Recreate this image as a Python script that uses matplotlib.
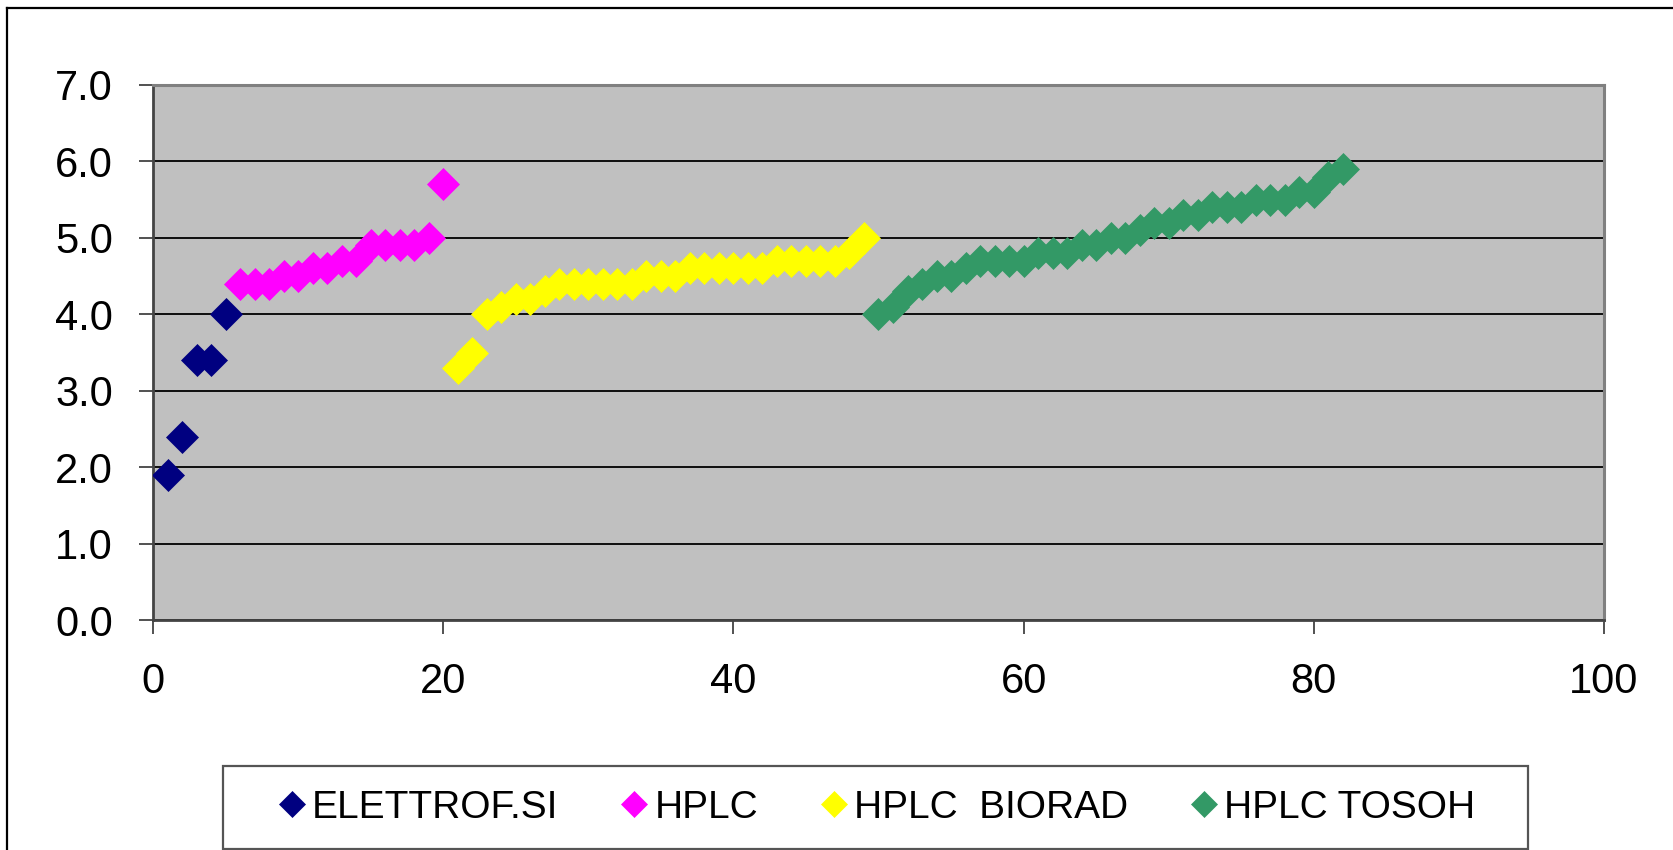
import matplotlib
matplotlib.use("Agg")
import matplotlib.pyplot as plt
from matplotlib.lines import Line2D
from matplotlib.patches import Rectangle

plt.rcParams['font.family'] = ['Liberation Sans', 'DejaVu Sans']

# ---- data ----
elettrof_x = [1, 2, 3, 4, 5]
elettrof_y = [1.9, 2.4, 3.4, 3.4, 4.0]

hplc_x = list(range(6, 21))
hplc_y = [4.4, 4.4, 4.4, 4.5, 4.5, 4.6, 4.6, 4.7, 4.7, 4.9, 4.9, 4.9, 4.9, 5.0, 5.7]

biorad_x = list(range(21, 50))
biorad_y = [3.3, 3.5, 4.0, 4.1, 4.2, 4.2, 4.3, 4.4, 4.4, 4.4, 4.4, 4.4, 4.4,
            4.5, 4.5, 4.5, 4.6, 4.6, 4.6, 4.6, 4.6, 4.6, 4.7, 4.7, 4.7, 4.7,
            4.7, 4.8, 5.0]

tosoh_x = list(range(50, 83))
tosoh_y = [4.0, 4.1, 4.3, 4.4, 4.5, 4.5, 4.6, 4.7, 4.7, 4.7, 4.7, 4.8, 4.8,
           4.8, 4.9, 4.9, 5.0, 5.0, 5.1, 5.2, 5.2, 5.3, 5.3, 5.4, 5.4, 5.4,
           5.5, 5.5, 5.5, 5.6, 5.6, 5.8, 5.9]

series_labels = ["ELETTROF.SI", "HPLC", "HPLC  BIORAD", "HPLC TOSOH"]
series_colors = ["#000080", "#FF00FF", "#FFFF00", "#339966"]

x_ticks = [0, 20, 40, 60, 80, 100]
y_ticks = [0.0, 1.0, 2.0, 3.0, 4.0, 5.0, 6.0, 7.0]

# ---- figure ----
W, H = 1674, 850
fig = plt.figure(figsize=(W / 100, H / 100), dpi=100)
fig.patch.set_facecolor("white")

ax = fig.add_axes([153 / W, 1 - 620 / H, (1604 - 153) / W, (620 - 85) / H])
ax.set_facecolor("#C0C0C0")

data = [(elettrof_x, elettrof_y), (hplc_x, hplc_y),
        (biorad_x, biorad_y), (tosoh_x, tosoh_y)]
for (xs, ys), lab, col in zip(data, series_labels, series_colors):
    ax.plot(xs, ys, linestyle="none", marker="D", markersize=16,
            markerfacecolor=col, markeredgecolor=col, markeredgewidth=0.5,
            label=lab, zorder=3)

ax.set_xlim(0, 100)
ax.set_ylim(0, 7)
ax.set_xticks(x_ticks)
ax.set_yticks(y_ticks)
ax.set_xticklabels([str(v) for v in x_ticks])
ax.set_yticklabels([f"{v:.1f}" for v in y_ticks])
ax.yaxis.grid(True, color="black", linewidth=1.3)
ax.set_axisbelow(True)

ax.tick_params(axis="both", direction="out", length=10, width=1.2,
               color="#333333", labelsize=30, labelcolor="black")
ax.tick_params(axis="y", pad=19)
ax.tick_params(axis="x", pad=20)

for side in ["left", "bottom"]:
    ax.spines[side].set_color("#444444")
    ax.spines[side].set_linewidth(2)
for side in ["top", "right"]:
    ax.spines[side].set_color("#808080")
    ax.spines[side].set_linewidth(2.2)

# outer chart border (top and left visible)
fig.add_artist(Line2D([7 / W, 1.0], [1 - 8 / H, 1 - 8 / H], color="black",
                      linewidth=1.6, transform=fig.transFigure))
fig.add_artist(Line2D([7 / W, 7 / W], [1 - 8 / H, 0.0], color="black",
                      linewidth=1.6, transform=fig.transFigure))

# legend frame
fig.add_artist(Rectangle((223 / W, 1 - 849 / H), (1528 - 223) / W,
                         (849 - 766) / H, transform=fig.transFigure,
                         facecolor="white", edgecolor="#555555",
                         linewidth=1.6, zorder=1))

leg = fig.legend(loc="center", bbox_to_anchor=(877 / W, 1 - 807.5 / H),
                 ncol=4, frameon=False, fontsize=28, markerscale=0.8,
                 handlelength=0.7, handletextpad=0.17, columnspacing=1.6,
                 borderpad=0.0)
leg.set_zorder(2)

fig.savefig("out.png", dpi=100)
